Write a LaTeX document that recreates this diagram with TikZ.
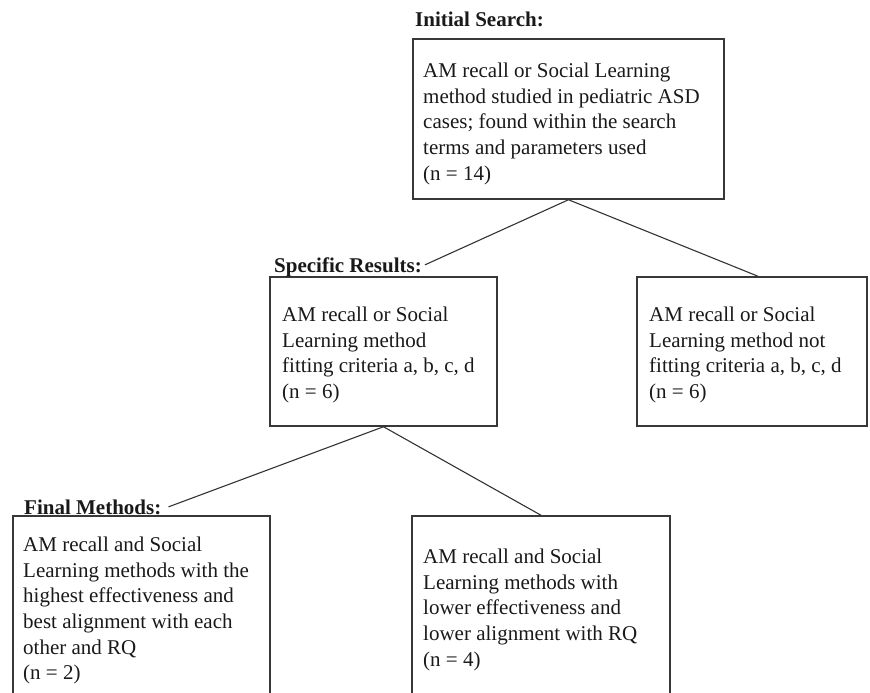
\documentclass[tikz,border=0pt]{standalone}
\usepackage{fontspec}
\setmainfont{Liberation Serif}
\begin{document}
\begin{tikzpicture}[x=1pt,y=-1pt,
  box/.style={draw=black!78, line width=1.5pt, rectangle, inner sep=0pt},
  txt/.style={anchor=north west, align=left, inner sep=0pt, font=\fontsize{21}{25.6}\selectfont, text=black!90},
  head/.style={anchor=base west, inner xsep=3pt, inner ysep=1.5pt, font=\fontsize{21}{25.6}\selectfont\bfseries, text=black!90},
  link/.style={draw=black!80, line width=1.1pt}]
\clip (0,0) rectangle (870,693);
% boxes
\node[box, minimum width=311pt, minimum height=160pt] (b1) at (568.5,119) {};
\node[box, minimum width=227pt, minimum height=149pt] (b2) at (383.5,351.5) {};
\node[box, minimum width=230pt, minimum height=149pt] (b3) at (752,351.5) {};
\node[box, minimum width=257pt, minimum height=204pt] (b4) at (141.5,618) {};
\node[box, minimum width=258pt, minimum height=204pt] (b5) at (541,618) {};
% headings
\node[head] (l1) at (412,27) {Initial Search:};
\node[head] (l2) at (271,272) {Specific Results:};
\node[head] (l4) at (21,514) {Final Methods:};
% texts
\node[txt] (t1) at (423,63) {AM recall or Social Learning\\method studied in pediatric ASD\\cases; found within the search\\terms and parameters used\\(n = 14)};
\node[txt] (t2) at (282,307) {AM recall or Social\\Learning method\\fitting criteria a, b, c, d\\(n = 6)};
\node[txt] (t3) at (649,307) {AM recall or Social\\Learning method not\\fitting criteria a, b, c, d\\(n = 6)};
\node[txt] (t4) at (23,537) {AM recall and Social\\Learning methods with the\\highest effectiveness and\\best alignment with each\\other and RQ\\(n = 2)};
\node[txt] (t5) at (423,549) {AM recall and Social\\Learning methods with\\lower effectiveness and\\lower alignment with RQ\\(n = 4)};
% connectors
\draw[link] (b1.south) -- ([yshift=2pt]l2.east);
\draw[link] (b1.south) -- ([xshift=6pt]b3.north);
\draw[link] (b2.south) -- ([xshift=4pt]l4.east);
\draw[link] (b2.south) -- (b5.north);
\end{tikzpicture}
\end{document}
